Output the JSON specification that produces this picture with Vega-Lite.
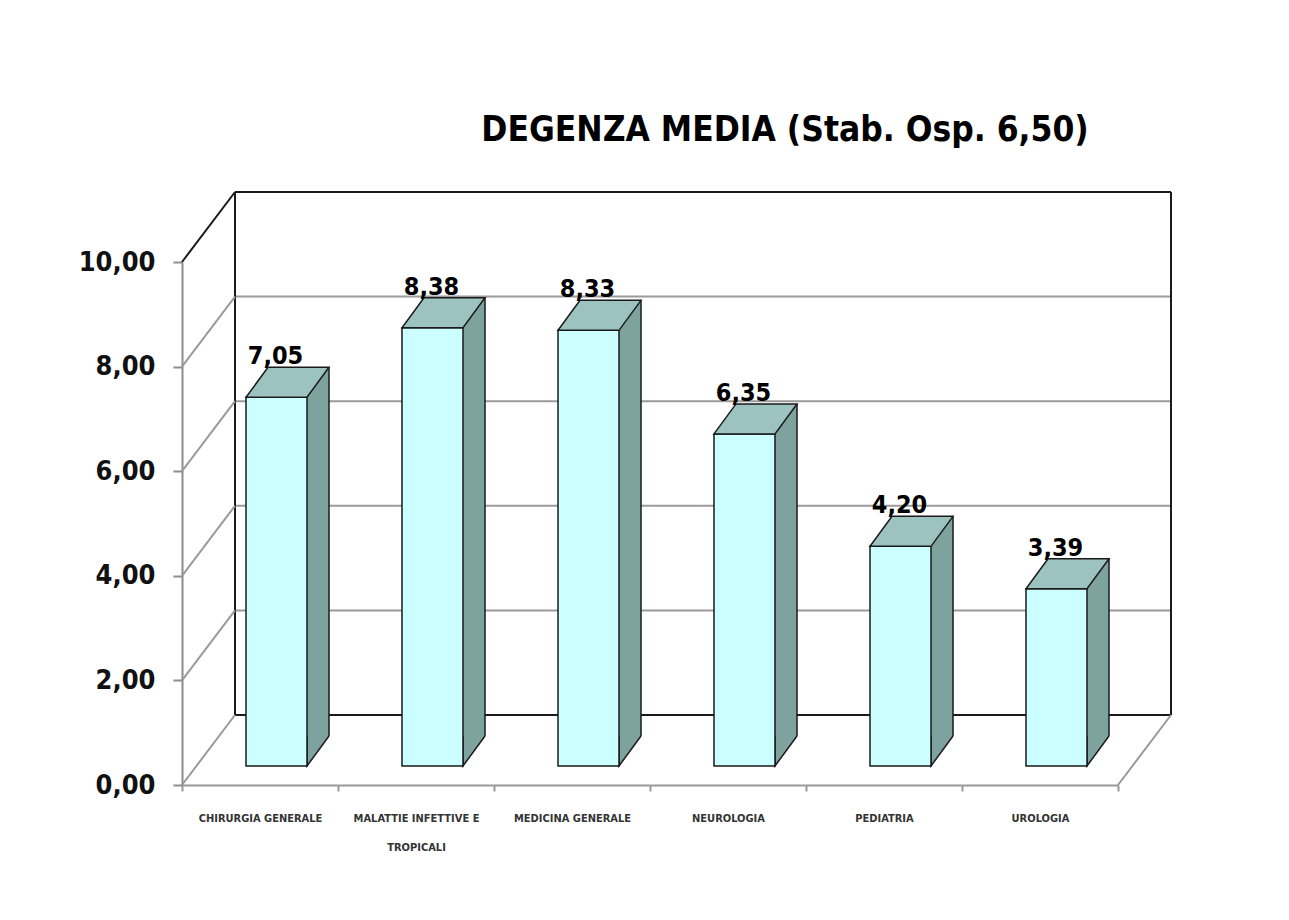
{
  "$schema": "https://vega.github.io/schema/vega-lite/v6.json",
  "width": 936,
  "height": 523,
  "autosize": "none",
  "padding": {"left": 182, "top": 262, "right": 171, "bottom": 135},
  "background": "white",
  "config": {
    "locale": {"number": {"decimal": ",", "thousands": ".", "grouping": [3], "currency": ["€", ""]}},
    "view": {"stroke": null},
    "font": "DejaVu Sans Condensed, DejaVu Sans, sans-serif"
  },
  "title": {
    "text": "DEGENZA MEDIA (Stab. Osp. 6,50)",
    "frame": "group",
    "anchor": "middle",
    "dx": 135,
    "offset": 40,
    "fontSize": 35,
    "fontWeight": "bold",
    "color": "#000000",
    "font": "DejaVu Sans Condensed, DejaVu Sans, sans-serif"
  },
  "datasets": {
    "reparti": [
      {"reparto": "CHIRURGIA GENERALE", "degenza": 7.05},
      {"reparto": "MALATTIE INFETTIVE E TROPICALI", "degenza": 8.38},
      {"reparto": "MEDICINA GENERALE", "degenza": 8.33},
      {"reparto": "NEUROLOGIA", "degenza": 6.35},
      {"reparto": "PEDIATRIA", "degenza": 4.20},
      {"reparto": "UROLOGIA", "degenza": 3.39}
    ],
    "tacche": [{"v": 0}, {"v": 2}, {"v": 4}, {"v": 6}, {"v": 8}, {"v": 10}],
    "uno": [{}]
  },
  "layer": [
    {
      "data": {"name": "tacche"},
      "mark": {"type": "rule", "xOffset": 53, "x2Offset": 53, "yOffset": -70, "strokeWidth": 2},
      "encoding": {
        "x": {"datum": "CHIRURGIA GENERALE", "type": "nominal", "bandPosition": 0, "title": null,
              "scale": {"domain": ["CHIRURGIA GENERALE", "MALATTIE INFETTIVE E TROPICALI", "MEDICINA GENERALE", "NEUROLOGIA", "PEDIATRIA", "UROLOGIA"], "paddingInner": 0, "paddingOuter": 0},
              "axis": {
                "orient": "bottom", "domainColor": "#999999", "domainWidth": 2, "tickColor": "#999999", "tickWidth": 2, "tickSize": 6,
                "tickBand": "extent", "labelAngle": 0, "labelAlign": "center", "labelBaseline": "top",
                "labelFontSize": 11, "labelFontWeight": "bold", "labelColor": "#333333",
                "labelFont": "DejaVu Sans Condensed, DejaVu Sans, sans-serif",
                "labelPadding": 21, "labelLineHeight": 29, "labelLimit": 0, "title": null,
                "labelExpr": "datum.label == 'MALATTIE INFETTIVE E TROPICALI' ? ['MALATTIE INFETTIVE E', 'TROPICALI'] : datum.label"
              }},
        "x2": {"datum": "UROLOGIA", "bandPosition": 1},
        "y": {
          "field": "v", "type": "quantitative", "title": null,
          "scale": {"domain": [0, 10], "nice": false, "zero": true},
          "axis": {
            "orient": "left", "values": [0, 2, 4, 6, 8, 10], "format": ".2f", "grid": false,
            "domainColor": "#8c8c8c", "domainWidth": 2, "tickColor": "#8c8c8c", "tickWidth": 2, "tickSize": 9,
            "labelFontSize": 27, "labelFontWeight": "bold", "labelColor": "#111111", "labelPadding": 18,
            "labelFont": "DejaVu Sans Condensed, DejaVu Sans, sans-serif", "title": null
          }
        },
        "color": {"condition": {"test": "datum.v == 0 || datum.v == 10", "value": "#1a1a1a"}, "value": "#9a9a9a"}
      }
    },
    {
      "data": {"name": "uno"},
      "mark": {"type": "rule", "xOffset": 53, "yOffset": -70, "y2Offset": -70, "color": "#1a1a1a", "strokeWidth": 2},
      "encoding": {
        "x": {"datum": "CHIRURGIA GENERALE", "type": "nominal", "bandPosition": 0, "title": null},
        "y": {"datum": 0, "type": "quantitative", "title": null},
        "y2": {"datum": 10}
      }
    },
    {
      "data": {"name": "uno"},
      "mark": {"type": "rule", "xOffset": 53, "yOffset": -70, "y2Offset": -70, "color": "#1a1a1a", "strokeWidth": 2},
      "encoding": {
        "x": {"datum": "UROLOGIA", "type": "nominal", "bandPosition": 1, "title": null},
        "y": {"datum": 0, "type": "quantitative", "title": null},
        "y2": {"datum": 10}
      }
    },
    {
      "data": {"name": "tacche"},
      "mark": {"type": "point", "shape": "M0,0 L1.06,-1.4", "size": 10000, "filled": false, "strokeWidth": 2, "opacity": 1},
      "encoding": {
        "x": {"datum": "CHIRURGIA GENERALE", "type": "nominal", "bandPosition": 0, "title": null},
        "y": {"field": "v", "type": "quantitative", "title": null},
        "color": {"condition": {"test": "datum.v == 10", "value": "#1a1a1a"}, "value": "#9a9a9a"}
      }
    },
    {
      "data": {"name": "uno"},
      "mark": {"type": "point", "shape": "M0,0 L1.06,-1.4", "size": 10000, "filled": false, "strokeWidth": 2, "opacity": 1, "color": "#9a9a9a"},
      "encoding": {
        "x": {"datum": "UROLOGIA", "type": "nominal", "bandPosition": 1, "title": null},
        "y": {"datum": 0, "type": "quantitative", "title": null}
      }
    },
    {
      "data": {"name": "reparti"},
      "mark": {"type": "bar", "width": {"band": 0.141}, "xOffset": 58, "x2Offset": 58, "yOffset": -49, "y2Offset": -49, "color": "#7ea39f", "strokeWidth": 0},
      "encoding": {
        "x": {"field": "reparto", "type": "nominal", "sort": null, "title": null},
        "y": {"field": "degenza", "type": "quantitative", "title": null},
        "y2": {"datum": 0}
      }
    },
    {
      "data": {"name": "reparti"},
      "mark": {"type": "rule", "xOffset": 69, "yOffset": -49, "y2Offset": -49, "color": "#1a1a1a", "strokeWidth": 1.5},
      "encoding": {
        "x": {"field": "reparto", "type": "nominal", "sort": null, "title": null},
        "y": {"field": "degenza", "type": "quantitative", "title": null},
        "y2": {"datum": 0}
      }
    },
    {
      "data": {"name": "reparti"},
      "mark": {"type": "point", "shape": "M0.61,-0.6 L0.61,0 L1.05,-0.6", "size": 10000, "filled": true, "fill": "#7ea39f", "stroke": "#1a1a1a", "strokeWidth": 1.5, "opacity": 1, "xOffset": 16.5, "yOffset": -19},
      "encoding": {
        "x": {"field": "reparto", "type": "nominal", "sort": null, "title": null},
        "y": {"datum": 0, "type": "quantitative", "title": null}
      }
    },
    {
      "data": {"name": "reparti"},
      "mark": {"type": "bar", "width": {"band": 0.391}, "xOffset": 16.5, "x2Offset": 16.5, "yOffset": -19, "y2Offset": -19, "fill": "#ccffff", "stroke": "#1a1a1a", "strokeWidth": 1.5},
      "encoding": {
        "x": {"field": "reparto", "type": "nominal", "sort": null, "title": null},
        "y": {"field": "degenza", "type": "quantitative", "title": null},
        "y2": {"datum": 0}
      }
    },
    {
      "data": {"name": "reparti"},
      "mark": {"type": "point", "shape": "M-0.61,0 L0.61,0 L1.05,-0.6 L-0.17,-0.6 Z", "size": 10000, "filled": true, "fill": "#9dc3c1", "stroke": "#1a1a1a", "strokeWidth": 1.5, "opacity": 1, "xOffset": 16.5, "yOffset": -19},
      "encoding": {
        "x": {"field": "reparto", "type": "nominal", "sort": null, "title": null},
        "y": {"field": "degenza", "type": "quantitative", "title": null}
      }
    },
    {
      "data": {"name": "reparti"},
      "mark": {"type": "text", "xOffset": 15.5, "yOffset": -52, "baseline": "alphabetic", "align": "center", "fontSize": 25, "fontWeight": "bold", "color": "#000000", "font": "DejaVu Sans Condensed, DejaVu Sans, sans-serif"},
      "encoding": {
        "x": {"field": "reparto", "type": "nominal", "sort": null, "title": null},
        "y": {"field": "degenza", "type": "quantitative", "title": null},
        "text": {"field": "degenza", "type": "quantitative", "format": ".2f"}
      }
    }
  ]
}
